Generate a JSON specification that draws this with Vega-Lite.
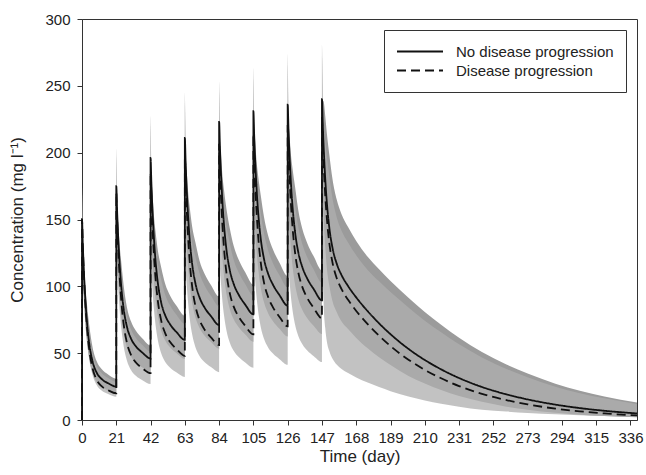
{
"$schema": "https://vega.github.io/schema/vega-lite/v6.json",
"width": 555, "height": 401,
"autosize": {"type": "none"},
"padding": {"left": 82, "top": 19, "right": 9, "bottom": 55},
"background": "white",
"config": {
 "font": "Liberation Sans",
 "view": {"stroke": "#333", "strokeWidth": 1},
 "axis": {"domainColor": "#333", "tickColor": "#333", "labelColor": "#222", "titleColor": "#222", "labelFont": "Liberation Sans", "titleFont": "Liberation Sans", "labelFontSize": 15, "titleFontSize": 17, "titleFontWeight": "normal", "tickSize": 5, "grid": false, "domainWidth": 1, "tickWidth": 1},
 "axisX": {"labelPadding": 5, "titlePadding": 3, "labelFlush": false},
 "axisY": {"labelPadding": 7, "titlePadding": 18}
},
"data": {"values": [
{"t":0,"s":0,"d":0,"nu":0,"nl":0,"pu":0,"pl":0},
{"t":0,"s":150,"d":150,"nu":174,"nl":135,"pu":168.8,"pl":130.5},
{"t":0.5,"s":131.3,"d":130.3,"nu":136.6,"nl":105,"pu":129.8,"pl":113.4},
{"t":1,"s":115.6,"d":113.9,"nu":123.7,"nl":92.5,"pu":113.8,"pl":99.1},
{"t":2,"s":91.2,"d":88.2,"nu":102.1,"nl":73,"pu":93.9,"pl":76.7},
{"t":3,"s":73.8,"d":70,"nu":87.1,"nl":59,"pu":80.1,"pl":60.9},
{"t":4.5,"s":56.7,"d":52.1,"nu":70.3,"nl":45.4,"pu":64.7,"pl":45.3},
{"t":6.5,"s":43.7,"d":38.5,"nu":54.2,"nl":35,"pu":49.9,"pl":33.5},
{"t":9,"s":35.4,"d":30.1,"nu":43.9,"nl":28.3,"pu":40.4,"pl":26.2},
{"t":12,"s":30.7,"d":25.3,"nu":38.1,"nl":24.6,"pu":35.1,"pl":22},
{"t":16,"s":27.5,"d":22.3,"nu":34.1,"nl":22,"pu":31.4,"pl":19.4},
{"t":21,"s":25,"d":20,"nu":31,"nl":20,"pu":28.5,"pl":17.4},
{"t":21,"s":175,"d":170,"nu":203,"nl":157.5,"pu":196.9,"pl":144.5},
{"t":21.5,"s":156.8,"d":150.5,"nu":163.1,"nl":122.3,"pu":154.9,"pl":115.9},
{"t":22,"s":141.6,"d":134.1,"nu":151.5,"nl":110.4,"pu":139.4,"pl":103.3},
{"t":23,"s":117.7,"d":108.4,"nu":131.8,"nl":91.8,"pu":121.3,"pl":83.5},
{"t":24,"s":100.6,"d":90.2,"nu":118.7,"nl":78.5,"pu":109.2,"pl":69.5},
{"t":25.5,"s":83.4,"d":71.9,"nu":100.9,"nl":65.1,"pu":92.8,"pl":55.4},
{"t":27.5,"s":69.9,"d":57.9,"nu":84.6,"nl":54.5,"pu":77.8,"pl":44.6},
{"t":30,"s":61,"d":48.7,"nu":73.8,"nl":47.6,"pu":67.9,"pl":37.5},
{"t":33,"s":55.1,"d":43,"nu":66.7,"nl":43,"pu":61.4,"pl":33.1},
{"t":37,"s":50.4,"d":38.7,"nu":61,"nl":39.3,"pu":56.1,"pl":29.8},
{"t":42,"s":46,"d":35,"nu":55.7,"nl":35.9,"pu":51.2,"pl":27},
{"t":42,"s":196,"d":185,"nu":227.4,"nl":176.4,"pu":220.6,"pl":157.3},
{"t":42.5,"s":177.6,"d":166,"nu":184.7,"nl":135,"pu":175.5,"pl":111.2},
{"t":43,"s":162,"d":149.9,"nu":173.3,"nl":123.1,"pu":159.4,"pl":100.4},
{"t":44,"s":137.5,"d":124.9,"nu":154,"nl":104.5,"pu":141.7,"pl":83.7},
{"t":45,"s":119.9,"d":106.9,"nu":141.5,"nl":91.1,"pu":130.2,"pl":71.6},
{"t":46.5,"s":102.2,"d":88.8,"nu":126.7,"nl":77.7,"pu":116.6,"pl":59.5},
{"t":48.5,"s":87.9,"d":74.5,"nu":114.3,"nl":66.8,"pu":105.2,"pl":49.9},
{"t":51,"s":78.2,"d":64.8,"nu":101.7,"nl":59.4,"pu":93.6,"pl":43.4},
{"t":54,"s":71.5,"d":58.3,"nu":93,"nl":54.3,"pu":85.6,"pl":39.1},
{"t":58,"s":65.6,"d":53,"nu":85.3,"nl":49.9,"pu":78.5,"pl":35.5},
{"t":63,"s":60,"d":48,"nu":78,"nl":45.6,"pu":71.8,"pl":32.2},
{"t":63,"s":211,"d":198,"nu":244.8,"nl":189.9,"pu":237.5,"pl":168.3},
{"t":63.5,"s":192.5,"d":178.7,"nu":200.2,"nl":144.4,"pu":190.2,"pl":114.4},
{"t":64,"s":176.9,"d":162.4,"nu":189.3,"nl":132.7,"pu":174.2,"pl":103.9},
{"t":65,"s":152.4,"d":136.9,"nu":170.7,"nl":114.3,"pu":157,"pl":87.6},
{"t":66,"s":134.7,"d":118.4,"nu":158.9,"nl":101,"pu":146.2,"pl":75.8},
{"t":67.5,"s":116.6,"d":99.8,"nu":144.6,"nl":87.5,"pu":133,"pl":63.9},
{"t":69.5,"s":102.1,"d":85.1,"nu":132.7,"nl":76.6,"pu":122.1,"pl":54.5},
{"t":72,"s":91.7,"d":74.8,"nu":119.2,"nl":68.8,"pu":109.7,"pl":47.9},
{"t":75,"s":84.3,"d":67.8,"nu":109.6,"nl":63.2,"pu":100.8,"pl":43.4},
{"t":79,"s":77.7,"d":61.8,"nu":101,"nl":58.3,"pu":92.9,"pl":39.6},
{"t":84,"s":71,"d":56,"nu":92.3,"nl":53.3,"pu":84.9,"pl":35.8},
{"t":84,"s":223,"d":206,"nu":253,"nl":200.7,"pu":245.4,"pl":175.1},
{"t":84.5,"s":204.3,"d":187.2,"nu":212.5,"nl":151.2,"pu":201.9,"pl":114.2},
{"t":85,"s":188.6,"d":171.3,"nu":201.8,"nl":139.6,"pu":185.7,"pl":104.5},
{"t":86,"s":163.7,"d":146.4,"nu":183.3,"nl":121.1,"pu":168.6,"pl":89.3},
{"t":87,"s":145.8,"d":128.3,"nu":172,"nl":107.9,"pu":158.2,"pl":78.3},
{"t":88.5,"s":127.3,"d":109.9,"nu":157.9,"nl":94.2,"pu":145.3,"pl":67},
{"t":90.5,"s":112.3,"d":95.1,"nu":143.7,"nl":83.1,"pu":132.2,"pl":58},
{"t":93,"s":101.5,"d":84.6,"nu":129.9,"nl":75.1,"pu":119.5,"pl":51.6},
{"t":96,"s":93.7,"d":77.2,"nu":119.9,"nl":69.3,"pu":110.3,"pl":47.1},
{"t":100,"s":86.3,"d":70.5,"nu":110.5,"nl":63.9,"pu":101.7,"pl":43},
{"t":105,"s":79,"d":64,"nu":101.1,"nl":58.5,"pu":93,"pl":39},
{"t":105,"s":231,"d":214,"nu":263.3,"nl":207.9,"pu":255.4,"pl":181.9},
{"t":105.5,"s":212.5,"d":195.3,"nu":221,"nl":155.1,"pu":210,"pl":115.2},
{"t":106,"s":196.7,"d":179.4,"nu":210.5,"nl":143.6,"pu":193.7,"pl":105.8},
{"t":107,"s":172.1,"d":154.5,"nu":192.8,"nl":125.6,"pu":177.4,"pl":91.2},
{"t":108,"s":154.1,"d":136.3,"nu":181.8,"nl":112.5,"pu":167.3,"pl":80.4},
{"t":109.5,"s":135.6,"d":117.9,"nu":168.1,"nl":99,"pu":154.7,"pl":69.6},
{"t":111.5,"s":120.5,"d":102.8,"nu":151.8,"nl":88,"pu":139.7,"pl":60.7},
{"t":114,"s":109.5,"d":92.1,"nu":138,"nl":79.9,"pu":127,"pl":54.3},
{"t":117,"s":101.2,"d":84.3,"nu":127.5,"nl":73.9,"pu":117.3,"pl":49.7},
{"t":121,"s":93.4,"d":77.1,"nu":117.7,"nl":68.2,"pu":108.3,"pl":45.5},
{"t":126,"s":85.5,"d":70,"nu":107.7,"nl":62.4,"pu":99.1,"pl":41.3},
{"t":126,"s":236,"d":220,"nu":273.8,"nl":212.4,"pu":265.6,"pl":187},
{"t":126.5,"s":217.5,"d":201.7,"nu":226.2,"nl":156.6,"pu":214.9,"pl":115},
{"t":127,"s":201.8,"d":186,"nu":215.9,"nl":145.3,"pu":198.6,"pl":106},
{"t":128,"s":177.2,"d":161.5,"nu":198.5,"nl":127.6,"pu":182.6,"pl":92.1},
{"t":129,"s":159.3,"d":143.8,"nu":188,"nl":114.7,"pu":173,"pl":82},
{"t":130.5,"s":140.8,"d":125.5,"nu":174.6,"nl":101.4,"pu":160.6,"pl":71.5},
{"t":132.5,"s":125.5,"d":110.4,"nu":156.9,"nl":90.4,"pu":144.3,"pl":62.9},
{"t":135,"s":114.3,"d":99.4,"nu":142.9,"nl":82.3,"pu":131.5,"pl":56.7},
{"t":138,"s":105.8,"d":91.3,"nu":132.3,"nl":76.2,"pu":121.7,"pl":52},
{"t":142,"s":97.8,"d":83.7,"nu":122.3,"nl":70.4,"pu":112.5,"pl":47.7},
{"t":147,"s":89.5,"d":76,"nu":111.9,"nl":64.4,"pu":102.9,"pl":43.3},
{"t":147,"s":240,"d":226,"nu":280.8,"nl":216,"pu":272.4,"pl":180.8},
{"t":147.5,"s":221.4,"d":207.9,"nu":239.1,"nl":177.1,"pu":227.1,"pl":114.3},
{"t":148,"s":205.6,"d":192.6,"nu":238.5,"nl":154.2,"pu":219.4,"pl":88.6},
{"t":149,"s":180.7,"d":168.4,"nu":227.7,"nl":130.1,"pu":209.5,"pl":69},
{"t":150,"s":162.6,"d":150.8,"nu":214.6,"nl":113.8,"pu":197.4,"pl":58.8},
{"t":151.5,"s":143.9,"d":132.6,"nu":198.6,"nl":100.7,"pu":182.7,"pl":51.7},
{"t":153.5,"s":128.5,"d":117.6,"nu":179.9,"nl":88.7,"pu":165.5,"pl":45.9},
{"t":156,"s":117.1,"d":106.3,"nu":165.1,"nl":80.8,"pu":151.9,"pl":41.5},
{"t":159,"s":108.4,"d":97.9,"nu":153.9,"nl":73.7,"pu":141.6,"pl":38.2},
{"t":163,"s":100.2,"d":89.9,"nu":144.3,"nl":68.1,"pu":132.8,"pl":35.1},
{"t":168,"s":91.7,"d":81.6,"nu":133.9,"nl":61.4,"pu":123.2,"pl":31.8},
{"t":175,"s":81.4,"d":71.7,"nu":122.1,"nl":53.7,"pu":112.3,"pl":28},
{"t":182,"s":72.3,"d":63,"nu":112.8,"nl":47,"pu":103.8,"pl":24.6},
{"t":189,"s":64.2,"d":55.3,"nu":104,"nl":41.1,"pu":95.7,"pl":21.6},
{"t":200,"s":53.2,"d":45.1,"nu":91.5,"nl":33,"pu":84.2,"pl":17.6},
{"t":210,"s":44.9,"d":37.5,"nu":80.8,"nl":27.4,"pu":74.3,"pl":14.6},
{"t":220,"s":37.9,"d":31.2,"nu":71.3,"nl":22.4,"pu":65.6,"pl":12.2},
{"t":231,"s":31.4,"d":25.4,"nu":61.5,"nl":17.9,"pu":56.6,"pl":9.9},
{"t":245,"s":24.7,"d":19.6,"nu":50.9,"nl":13.6,"pu":46.8,"pl":7.6},
{"t":260,"s":19.2,"d":14.9,"nu":41.5,"nl":10,"pu":38.2,"pl":6.3},
{"t":273,"s":15.4,"d":11.7,"nu":34.7,"nl":7.7,"pu":31.9,"pl":5.3},
{"t":290,"s":11.5,"d":8.5,"nu":27.1,"nl":5.4,"pu":24.9,"pl":4.3},
{"t":305,"s":8.9,"d":6.5,"nu":21.8,"nl":4,"pu":20.1,"pl":3.6},
{"t":320,"s":6.9,"d":4.9,"nu":17.6,"nl":3,"pu":16.2,"pl":2.9},
{"t":340,"s":4.9,"d":3.4,"nu":13,"nl":2,"pu":12,"pl":2.2}
]},
"encoding": {
 "x": {"field": "t", "type": "quantitative", "scale": {"domain": [0, 340], "nice": false, "zero": false},
   "axis": {"title": "Time (day)", "values": [0,21,42,63,84,105,126,147,168,189,210,231,252,273,294,315,336]}}
},
"layer": [
 {"mark": {"type": "area", "interpolate": "monotone", "color": "#9b9b9b"},
  "encoding": {
   "y": {"field": "nu", "type": "quantitative", "scale": {"domain": [0, 300], "nice": false}, "axis": {"title": "Concentration (mg l⁻¹)", "values": [0,50,100,150,200,250,300]}},
   "y2": {"field": "nl"},
   "order": {"value": null}}},
 {"mark": {"type": "area", "interpolate": "monotone", "color": "#afafaf", "opacity": 0.76},
  "encoding": {
   "y": {"field": "pu", "type": "quantitative", "axis": {"title": "Concentration (mg l⁻¹)", "values": [0,50,100,150,200,250,300]}},
   "y2": {"field": "pl"},
   "order": {"value": null}}},
 {"transform": [{"fold": ["s", "d"]}],
  "mark": {"type": "line", "interpolate": "monotone", "color": "#111", "strokeWidth": 1.8},
  "encoding": {
   "y": {"field": "value", "type": "quantitative", "axis": {"title": "Concentration (mg l⁻¹)", "values": [0,50,100,150,200,250,300]}},
   "strokeDash": {"field": "key", "type": "nominal",
     "scale": {"domain": ["s", "d"], "range": [[1, 0], [9, 5]]},
     "legend": {"title": null, "orient": "top-right", "offset": 11,
       "labelExpr": "datum.value == 's' ? 'No disease progression' : 'Disease progression'",
       "symbolType": "stroke", "symbolSize": 2116, "symbolStrokeWidth": 1.8, "symbolStrokeColor": "#111",
       "labelFontSize": 15, "labelFont": "Liberation Sans", "labelColor": "#222", "labelLimit": 300,
       "strokeColor": "#333", "fillColor": "white", "padding": 12, "rowPadding": 0, "clipHeight": 19, "labelOffset": 12,
       "encode": {"symbols": {"update": {"strokeDash": {"signal": "datum.value == 'd' ? [12, 5] : [1, 0]"}}}}}},
   "order": {"value": null}}}
]
}
